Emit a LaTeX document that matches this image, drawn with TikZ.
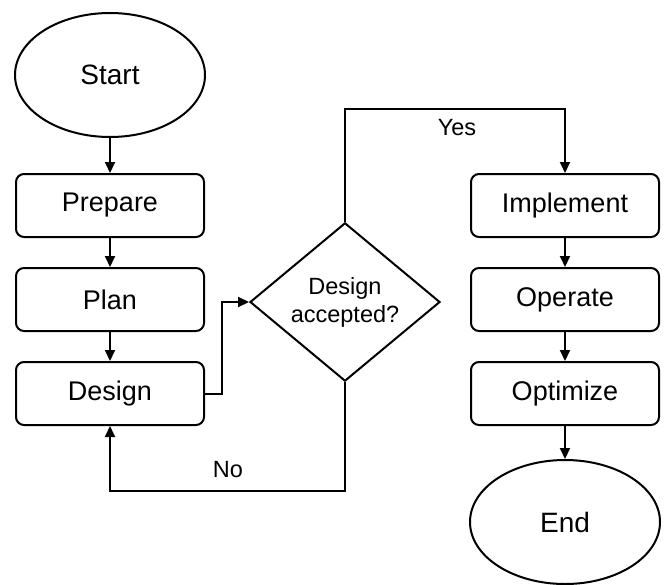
\documentclass[tikz,border=0pt]{standalone}
\usepackage{fontspec}
\setmainfont{Liberation Sans}
\usetikzlibrary{shapes.geometric,arrows.meta}
\begin{document}
\begin{tikzpicture}[x=1pt,y=-1pt,
  every path/.style={line width=2pt},
  term/.style={draw, ellipse, inner sep=0pt, minimum width=190pt, minimum height=124pt, font=\fontsize{28}{32}\selectfont},
  stepbox/.style={draw, rectangle, rounded corners=8pt, minimum width=188pt, minimum height=63pt, inner sep=0pt, font=\fontsize{27}{32}\selectfont},
  decision/.style={draw, diamond, inner sep=0pt, minimum width=190pt, minimum height=156pt, align=center, font=\fontsize{23.5}{28}\selectfont},
  lbl/.style={inner sep=0pt, font=\fontsize{23.5}{28}\selectfont},
  arr/.style={-{Triangle[length=11pt,width=10pt]}, line width=2pt}]
\useasboundingbox (0,0) rectangle (666,584);
\node[term] (start) at (110,75) {Start};
\node[stepbox] (prepare) at (110,205.5) {Prepare};
\node[stepbox] (plan) at (110,299.5) {Plan};
\node[stepbox] (design) at (110,393.5) {Design};
\node[decision] (dec) at (345,302) {Design\\accepted?};
\node[stepbox] (impl) at (565,205.5) {Implement};
\node[stepbox] (oper) at (565,299.5) {Operate};
\node[stepbox] (opt) at (565,393.5) {Optimize};
\node[term] (end) at (565,522) {End};
\draw[arr] (start) -- (prepare);
\draw[arr] (prepare) -- (plan);
\draw[arr] (plan) -- (design);
\draw[arr] (design.east) -- ++(17,0) |- (dec.west);
\draw[arr] (dec.north) -- ++(0,-113) -| (impl.north);
\draw[arr] (dec.south) -- ++(0,109) -| (design.south);
\draw[arr] (impl) -- (oper);
\draw[arr] (oper) -- (opt);
\draw[arr] (opt) -- (end);
\node[lbl] (yes) at (457,128) {Yes};
\node[lbl] (no) at (228,470) {No};
\end{tikzpicture}
\end{document}
